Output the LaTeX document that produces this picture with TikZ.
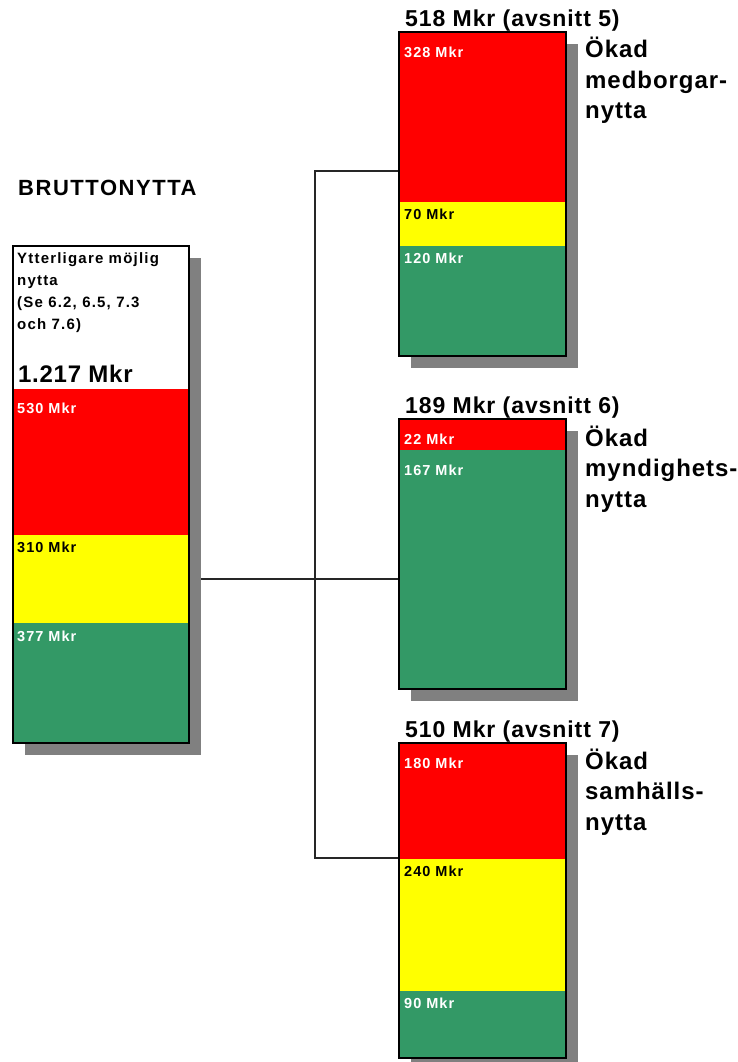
\documentclass[tikz,border=0pt]{standalone}
\usepackage{fontspec}
\setmainfont{Liberation Sans}
\newfontfamily\glesfont{Liberation Sans Bold}
\usetikzlibrary{shadows}
\pgfdeclarelayer{background}
\pgfsetlayers{background,main}

\definecolor{rod}{HTML}{FF0000}
\definecolor{gul}{HTML}{FFFF00}
\definecolor{gron}{HTML}{339966}
\definecolor{skugga}{HTML}{808080}

\newcommand{\mkrfont}{\glesfont\addfontfeature{LetterSpace=7}\fontsize{14.5}{16}\selectfont}
\newcommand{\infofont}{\glesfont\addfontfeature{LetterSpace=8}\fontsize{15}{22}\selectfont}
\newcommand{\rubrikfont}{\glesfont\addfontfeature{LetterSpace=4}\fontsize{23}{27}\selectfont}
\newcommand{\sidafont}{\glesfont\addfontfeature{LetterSpace=4}\fontsize{24}{30.5}\selectfont}

\begin{document}
\begin{tikzpicture}[x=1pt,y=-1pt]

\useasboundingbox (0,0) rectangle (738,1062);

% Define block styles
\tikzstyle{ram}=[rectangle, fill=white, inner sep=0pt, outer sep=0pt,
  anchor=north west,
  drop shadow={shadow xshift=12pt, shadow yshift=-12pt, fill=skugga, opacity=1}]
\tikzstyle{del}=[rectangle, inner sep=0pt, outer sep=0pt, anchor=north west]
\tikzstyle{kant}=[draw=black, line width=2pt]
\tikzstyle{belopp}=[anchor=base west, inner sep=0pt, font=\mkrfont]
\tikzstyle{rubrik}=[anchor=base west, inner sep=0pt, font=\rubrikfont]
\tikzstyle{sida}=[anchor=base west, inner sep=0pt, align=left, font=\sidafont]
\tikzstyle{line}=[draw, line width=1.3pt, color=black!85]

% One coloured part of a bar: name, x, top, width, height, colour
\newcommand{\del}[6]{%
  \path node[del, fill=#6, minimum width=#4pt, minimum height=#5pt]
    (#1) at (#2,#3) {};}

% Draw the frames (with shadow)
\path node[ram, minimum width=176pt, minimum height=497pt] (b0) at (13,246) {};
\path node[ram, minimum width=167pt, minimum height=324pt] (b1) at (399,32) {};
\path node[ram, minimum width=167pt, minimum height=270pt] (b2) at (399,419) {};
\path node[ram, minimum width=167pt, minimum height=315pt] (b3) at (399,743) {};

% Bruttonytta
\del{d0r}{13}{389}{176}{146}{rod}
\del{d0y}{13}{535}{176}{88}{gul}
\del{d0g}{13}{623}{176}{120}{gron}

% Avsnitt 5
\del{d1r}{399}{32}{167}{170}{rod}
\del{d1y}{399}{202}{167}{44}{gul}
\del{d1g}{399}{246}{167}{110}{gron}

% Avsnitt 6
\del{d2r}{399}{419}{167}{31}{rod}
\del{d2g}{399}{450}{167}{239}{gron}

% Avsnitt 7
\del{d3r}{399}{743}{167}{116}{rod}
\del{d3y}{399}{859}{167}{132}{gul}
\del{d3g}{399}{991}{167}{67}{gron}

\foreach \b in {b0,b1,b2,b3}
  \draw[kant] (\b.north west) rectangle (\b.south east);

% Texts (multi-line nodes sit on their last baseline)
\node[anchor=base west, inner sep=0pt,
  font=\glesfont\addfontfeature{LetterSpace=7}\fontsize{22}{26}\selectfont]
  (titel) at (18,195) {BRUTTONYTTA};
\node[anchor=base west, inner sep=0pt, align=left, font=\infofont]
  (info) at (17,329) {Ytterligare möjlig\\nytta\\(Se 6.2, 6.5, 7.3\\och 7.6)};
\node[anchor=base west, inner sep=0pt,
  font=\glesfont\addfontfeature{LetterSpace=3}\fontsize{24}{28}\selectfont]
  (summa) at (18,382) {1.217 Mkr};

\node[belopp, text=white] (t0r) at (17,413) {530 Mkr};
\node[belopp] (t0y) at (17,552) {310 Mkr};
\node[belopp, text=white] (t0g) at (17,641) {377 Mkr};

\node[belopp, text=white] (t1r) at (404,58) {328 Mkr};
\node[belopp] (t1y) at (404,219) {70 Mkr};
\node[belopp, text=white] (t1g) at (404,263) {120 Mkr};

\node[belopp, text=white] (t2r) at (404,444) {22 Mkr};
\node[belopp, text=white] (t2g) at (404,475) {167 Mkr};

\node[belopp, text=white] (t3r) at (404,768) {180 Mkr};
\node[belopp] (t3y) at (404,876) {240 Mkr};
\node[belopp, text=white] (t3g) at (404,1008) {90 Mkr};

\node[rubrik] (r1) at (405,27) {518 Mkr (avsnitt 5)};
\node[rubrik] (r2) at (405,413) {189 Mkr (avsnitt 6)};
\node[rubrik] (r3) at (405,737) {510 Mkr (avsnitt 7)};

\node[sida] (s1) at (585,119) {Ökad\\medborgar-\\nytta};
\node[sida] (s2) at (585,507) {Ökad\\myndighets-\\nytta};
\node[sida] (s3) at (585,830) {Ökad\\samhälls-\\nytta};

% Connectors
\coordinate (hub) at (315,579);
\coordinate (gren1) at (315,171);
\coordinate (gren3) at (315,858);
\begin{pgfonlayer}{background}
  \path[line] (b0.east |- hub) -- (b2.west |- hub);
  \path[line] (b1.west |- gren1) -- (gren1) -- (gren3) -- (b3.west |- gren3);
\end{pgfonlayer}

\end{tikzpicture}
\end{document}
